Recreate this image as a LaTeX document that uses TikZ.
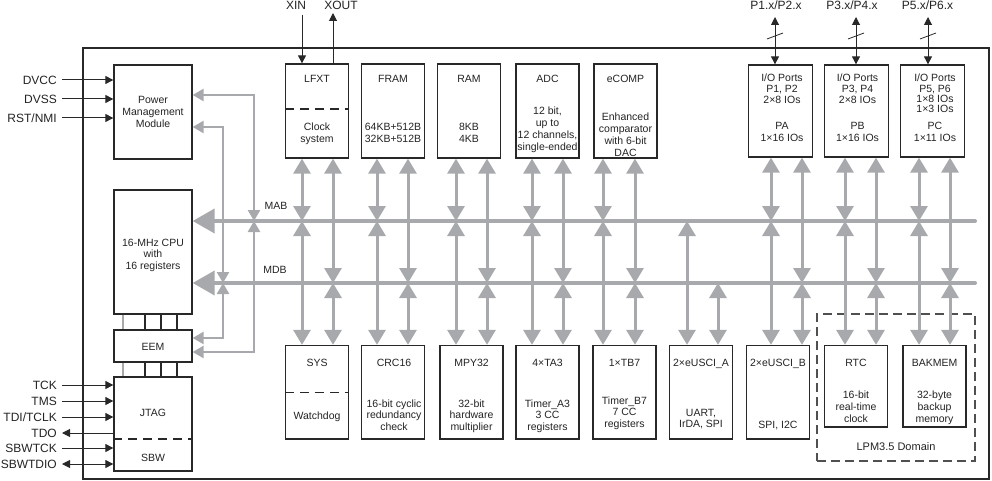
\documentclass[tikz,border=0pt]{standalone}
\usepackage{fontspec}
\setmainfont{Liberation Sans}
\usetikzlibrary{arrows.meta}
\definecolor{blk}{RGB}{40,40,40}
\definecolor{txt}{RGB}{35,35,35}
\definecolor{gry}{RGB}{167,169,172}
\definecolor{dsh}{RGB}{80,80,80}
\newcommand\mylines[4]{\foreach \s [count=\i] in {#4}{\node[t] (#3-\i) at (#1,{#2+11.7*(\i-1)}) {\s};}}
\begin{document}
\begin{tikzpicture}[x=1pt,y=-1pt,
  box/.style={draw=blk,line width=1.3pt,inner sep=0pt},
  topblk/.style={box,minimum width=63pt,minimum height=94pt},
  ioblk/.style={box,minimum width=64pt,minimum height=92pt},
  botblk/.style={box,minimum width=63pt,minimum height=93.5pt},
  lpmblk/.style={box,minimum width=63pt,minimum height=81.5pt},
  t/.style={font=\fontsize{10.5}{12}\selectfont,inner sep=0pt,anchor=base,text=txt},
  lbl/.style={font=\fontsize{12}{14}\selectfont,inner sep=0pt,anchor=base east,text=txt},
  toplbl/.style={font=\fontsize{12}{14}\selectfont,inner sep=0pt,anchor=base,text=txt},
  gcol/.style={draw=gry,line width=3pt,>={Triangle[width=17pt,length=15pt]},<->},
  gthin/.style={draw=gry,line width=2.5pt,>={Triangle[width=12pt,length=11pt]},<->},
  bus/.style={draw=gry,line width=4pt,line cap=round,-{Triangle[width=24pt,length=22pt]}},
  ext/.style={draw=blk,line width=1pt,>={Triangle[width=8pt,length=8pt]}},
  divider/.style={draw=blk,line width=1.1pt,dash pattern=on 9pt off 6pt},
  link/.style={draw=blk,line width=1.2pt}]
\useasboundingbox (0,0) rectangle (992,481);

% outer chip frame
\node[box,line width=1.5pt,minimum width=906pt,minimum height=431pt] (chip) at (536,263.5) {};

% left column
\node[box,minimum width=78pt,minimum height=94pt] (pm) at (153,112) {};
\node[box,minimum width=78pt,minimum height=124pt] (cpu) at (153,252) {};
\node[box,minimum width=78pt,minimum height=32pt] (eem) at (153,346) {};
\node[box,minimum width=78pt,minimum height=94pt] (jtag) at (153,424) {};
\draw[divider] ([yshift=-15pt]jtag.west) -- ([yshift=-15pt]jtag.east);

% top blocks
\node[topblk] (lfxt) at (317,111) {};
\node[topblk] (fram) at (393,111) {};
\node[topblk] (ram) at (469,111) {};
\node[topblk] (adc) at (547.5,111) {};
\node[topblk] (ecomp) at (625.5,111) {};
\node[ioblk] (pa) at (780.5,111) {};
\node[ioblk] (pb) at (856.5,111) {};
\node[ioblk] (pc) at (932.5,111) {};
\draw[divider] ([yshift=2pt]lfxt.west) -- ([yshift=2pt]lfxt.east);

% bottom blocks
\node[botblk] (sys) at (317,392.25) {};
\node[botblk] (crc) at (393,392.25) {};
\node[botblk] (mpy) at (471.5,392.25) {};
\node[botblk] (ta) at (547.5,392.25) {};
\node[botblk] (tmb) at (624.5,392.25) {};
\node[botblk] (ua) at (701,392.25) {};
\node[botblk] (ub) at (778,392.25) {};
\node[lpmblk] (rtc) at (856,386.25) {};
\node[lpmblk] (bak) at (934.5,386.25) {};
\draw[divider] (sys.west) -- (sys.east);
\node[draw=dsh,line width=1.2pt,dash pattern=on 9pt off 5pt,inner sep=0pt,minimum width=158pt,minimum height=147pt] (lpm) at (896,387.5) {};

% buses
\coordinate (mab) at (0,221);
\coordinate (mdb) at (0,283);
\coordinate (mabR) at (975,221);
\coordinate (mdbR) at (975,283);
\draw[bus] (mabR) -- (mab -| cpu.east);
\draw[bus] (mdbR) -- (mdb -| cpu.east);
\node[t] (mablbl) at (276,209) {MAB};
\node[t] (mdblbl) at (275,273) {MDB};

% columns to the buses
\foreach \L/\R/\T/\B in {302/333/lfxt/sys,377/408/fram/crc,456/487/ram/mpy,532/563/adc/ta,603/635/ecomp/tmb,771/802/pa/ub,845/876/pb/rtc,919/950/pc/bak}{
  \coordinate (cl) at (\L,0);
  \coordinate (cr) at (\R,0);
  \draw[gcol] (\T.south -| cl) -- (mab -| cl);
  \draw[gcol] (\T.south -| cr) -- (mdb -| cr);
  \draw[gcol] (mab -| cl) -- (\B.north -| cl);
  \draw[gcol] (mdb -| cr) -- (\B.north -| cr);
}
\coordinate (ual) at (687,0);
\coordinate (uar) at (718,0);
\draw[gcol] (mab -| ual) -- (ua.north -| ual);
\draw[gcol] (mdb -| uar) -- (ua.north -| uar);

% control lines to power management / EEM
\coordinate (g1) at (254,0);
\coordinate (g2) at (223,0);
\draw[gthin] ([yshift=17pt]pm.east) -| (mab -| g1);
\draw[gthin] (mab -| g1) |- ([yshift=-6pt]eem.east);
\draw[gthin] ([yshift=-15pt]pm.east) -| (mdb -| g2);
\draw[gthin] (mdb -| g2) |- ([yshift=8pt]eem.east);

% CPU - EEM - JTAG links
\coordinate (k1) at (123,0);
\coordinate (k2) at (145,0);
\coordinate (k3) at (161,0);
\coordinate (k4) at (177,0);
\draw[draw=gry,line width=1.2pt] (cpu.south -| k1) -- (eem.north -| k1);
\draw[draw=gry,line width=1.2pt] (eem.south -| k1) -- (jtag.north -| k1);
\foreach \k in {k2,k3,k4}{
  \draw[link] (cpu.south -| \k) -- (eem.north -| \k);
  \draw[link] (eem.south -| \k) -- (jtag.north -| \k);
}

% external pins left
\coordinate (dvcc) at (62,80);
\coordinate (dvss) at (62,99);
\coordinate (rst) at (62,118);
\draw[ext,->] (dvcc) -- (dvcc -| pm.west);
\draw[ext,->] (dvss) -- (dvss -| pm.west);
\draw[ext,->] (rst) -- (rst -| pm.west);
\node[lbl] (ldvcc) at (57,84.5) {DVCC};
\node[lbl] (ldvss) at (57,103.5) {DVSS};
\node[lbl] (lrst) at (57,122.5) {RST/NMI};

\coordinate (tck) at (62,385);
\coordinate (tms) at (62,401);
\coordinate (tdi) at (62,417);
\coordinate (tdo) at (62,433);
\coordinate (sbwtck) at (62,448);
\coordinate (sbwtdio) at (62,464);
\draw[ext,->] (tck) -- (tck -| jtag.west);
\draw[ext,->] (tms) -- (tms -| jtag.west);
\draw[ext,->] (tdi) -- (tdi -| jtag.west);
\draw[ext,<-] (tdo) -- (tdo -| jtag.west);
\draw[ext,->] (sbwtck) -- (sbwtck -| jtag.west);
\draw[ext,<->] (sbwtdio) -- (sbwtdio -| jtag.west);
\node[lbl] (ltck) at (57,389.5) {TCK};
\node[lbl] (ltms) at (57,405.5) {TMS};
\node[lbl] (ltdi) at (57,421.5) {TDI/TCLK};
\node[lbl] (ltdo) at (57,437.5) {TDO};
\node[lbl] (lsbwtck) at (57,452.5) {SBWTCK};
\node[lbl] (lsbwtdio) at (57,468.5) {SBWTDIO};

% crystal pins
\coordinate (xin) at (302,15);
\coordinate (xout) at (333,13);
\draw[ext,->] (xin) -- (lfxt.north -| xin);
\draw[ext,->] (lfxt.north -| xout) -- (xout);
\node[toplbl] (lxin) at (296,10) {XIN};
\node[toplbl] (lxout) at (341,10) {XOUT};

% port pins
\foreach \p/\x/\io in {p1/775/pa,p3/856/pb,p5/928/pc}{
  \coordinate (\p) at (\x,17);
  \draw[ext,<->] (\p) -- (\p |- \io.north);
  \draw[blk,line width=0.8pt] ([shift={(-8,22)}]\p) -- ([shift={(8,16)}]\p);
}
\node[toplbl] (lp1) at (776,10) {P1.x/P2.x};
\node[toplbl] (lp3) at (852,10) {P3.x/P4.x};
\node[toplbl] (lp5) at (927.5,10) {P5.x/P6.x};

% texts left column
\mylines{153}{104}{pmt}{Power,Management,Module}
\mylines{153}{246}{cput}{16-MHz CPU,with,16 registers}
\node[t] (eemt) at (153,350) {EEM};
\node[t] (jtagt) at (153,416) {JTAG};
\node[t] (sbwt) at (153,461) {SBW};

% texts top blocks
\node[t] (lfxtt) at (317,83) {LFXT};
\mylines{317}{131}{lfxtd}{Clock,system}
\node[t] (framt) at (393,83) {FRAM};
\mylines{393}{131}{framd}{64KB+512B,32KB+512B}
\node[t] (ramt) at (469,83) {RAM};
\mylines{469}{131}{ramd}{8KB,4KB}
\node[t] (adct) at (547.5,83) {ADC};
\mylines{547.5}{115}{adcd}{{12 bit,},up to,{12 channels,},single-ended}
\node[t] (ecompt) at (625.5,83) {eCOMP};
\mylines{625.5}{121}{ecompd}{Enhanced,comparator,with 6-bit,DAC}

% I/O port texts
\node[t] (pat1) at (782,82) {I/O Ports};
\node[t] (pat2) at (782,92.5) {P1, P2};
\node[t] (pat3) at (782,103.5) {2×8 IOs};
\node[t] (pat4) at (782,130) {PA};
\node[t] (pat5) at (782,141.7) {1×16 IOs};
\node[t] (pbt1) at (857.5,82) {I/O Ports};
\node[t] (pbt2) at (857.5,92.5) {P3, P4};
\node[t] (pbt3) at (857.5,103.5) {2×8 IOs};
\node[t] (pbt4) at (857.5,130) {PB};
\node[t] (pbt5) at (857.5,141.7) {1×16 IOs};
\node[t] (pct1) at (935,82) {I/O Ports};
\node[t] (pct2) at (935,92.5) {P5, P6};
\node[t] (pct3) at (935,102.5) {1×8 IOs};
\node[t] (pct4) at (935,112.5) {1×3 IOs};
\node[t] (pct5) at (935,130) {PC};
\node[t] (pct6) at (935,141.7) {1×11 IOs};

% texts bottom blocks
\node[t] (syst) at (317,366.5) {SYS};
\node[t] (sysd) at (317,419) {Watchdog};
\node[t] (crct) at (394,366.5) {CRC16};
\mylines{394}{407}{crcd}{16-bit cyclic,redundancy,check}
\node[t] (mpyt) at (471.5,366) {MPY32};
\mylines{471.5}{407}{mpyd}{32-bit,hardware,multiplier}
\node[t] (tat) at (547.5,366.5) {4×TA3};
\mylines{547.5}{407}{tad}{Timer\_A3,3 CC,registers}
\node[t] (tmbt) at (624.5,366.5) {1×TB7};
\mylines{624.5}{404}{tmbd}{Timer\_B7,7 CC,registers}
\node[t] (uat) at (701,366.5) {2×eUSCI\_A};
\mylines{701}{416}{uad}{{UART,},{IrDA, SPI}}
\node[t] (ubt) at (778,366.5) {2×eUSCI\_B};
\node[t] (ubd) at (778,428) {SPI, I2C};
\node[t] (rtct) at (856,366.5) {RTC};
\mylines{856}{398.7}{rtcd}{16-bit,real-time,clock}
\node[t] (bakt) at (934.5,366.5) {BAKMEM};
\mylines{934.5}{398.7}{bakd}{32-byte,backup,memory}
\node[t,font=\fontsize{11}{13}\selectfont] (lpmt) at (896,450.7) {LPM3.5 Domain};
\end{tikzpicture}
\end{document}
